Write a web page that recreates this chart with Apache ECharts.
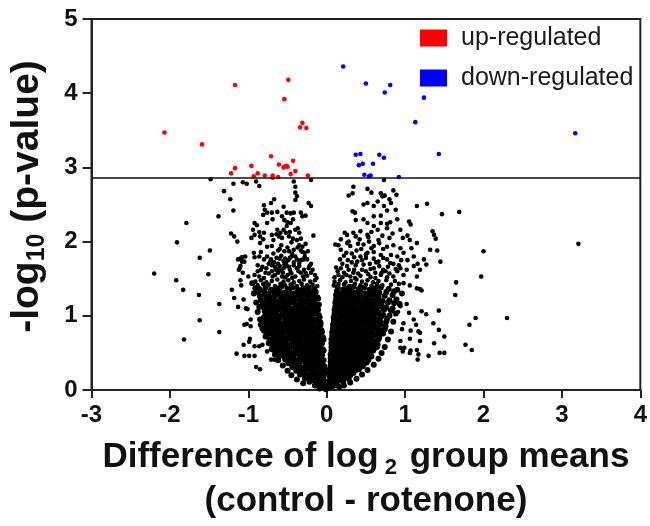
<!DOCTYPE html>
<html><head><meta charset="utf-8">
<script src="https://cdn.jsdelivr.net/npm/echarts@6/dist/echarts.min.js"></script>
<style>html,body{margin:0;padding:0;background:#fff}#c{width:650px;height:526px}</style>
</head><body><div id="c"></div>
<script>
const xTicks = [-3,-2,-1,0,1,2,3,4];
const yTicks = [0,1,2,3,4,5];
const threshold = 2.86;
const upRegulated = [[-2.07,3.47],[-1.59,3.31],[-1.17,4.11],[-0.49,4.18],[-0.54,3.92],[-0.31,3.60],[-0.34,3.54],[-0.26,3.53],[-0.71,3.15],[-0.96,3.02],[-1.17,2.99],[-1.22,2.92],[-0.61,3.04],[-0.55,3.00],[-0.52,3.02],[-0.50,3.01],[-0.43,3.09],[-0.40,2.95],[-0.46,2.91],[-0.88,2.92],[-0.93,2.88],[-0.79,2.89],[-0.69,2.89],[-0.69,2.86],[-0.62,2.87],[-0.24,2.89]];
const downRegulated = [[0.21,4.36],[0.50,4.13],[0.81,4.11],[0.74,4.01],[1.24,3.94],[1.13,3.61],[3.17,3.46],[1.43,3.18],[0.37,3.17],[0.43,3.18],[0.67,3.17],[0.73,3.13],[0.41,3.03],[0.46,3.05],[0.59,3.05],[0.48,2.90],[0.54,2.88],[0.56,2.89],[0.92,2.87]];
const nsLeftOutliers = [[-2.20,1.57],[-1.91,1.99],[-1.92,1.48],[-1.83,1.35],[-1.82,0.68],[-1.79,2.25],[-1.63,1.28],[-1.62,1.78],[-1.62,0.94],[-1.51,1.56],[-1.49,1.88],[-1.48,2.84],[-1.38,2.34],[-1.37,1.16],[-1.37,0.78],[-1.31,2.68],[-1.23,2.57],[-1.22,2.11],[-1.19,2.42],[-1.19,2.78],[-1.14,2.00],[-1.18,2.07],[-1.07,2.80],[-1.02,2.78],[-0.86,2.75],[-0.90,2.81],[-1.15,0.49],[-1.05,0.46],[-0.99,0.46],[-0.92,0.46],[-0.90,0.31],[-0.85,0.28],[-1.06,0.61],[-0.99,0.65],[-1.21,1.35],[-1.18,1.24],[-1.13,1.12],[-1.03,1.10],[-1.02,0.89],[-1.06,1.22],[-1.11,1.64],[-1.13,1.76],[-1.09,1.78],[-1.04,1.80],[-1.10,1.48],[-1.12,1.62],[-1.08,1.73],[-1.07,1.58],[-1.00,1.53],[-1.09,1.41],[-1.01,1.09],[-0.97,0.95],[-1.05,0.88],[-0.97,0.86],[-0.98,0.69],[-0.92,0.59],[-0.86,0.59],[-0.82,0.61],[-0.76,0.52],[-0.71,0.41],[-0.67,0.41],[-0.20,2.83]];
const nsLeftWing = [[-0.42,2.81],[-0.40,2.74],[-0.40,2.66],[-0.38,2.61],[-0.40,2.56],[-0.23,2.52],[-0.20,2.48],[-0.67,2.57],[-0.71,2.52],[-0.80,2.49],[-0.79,2.43],[-0.81,2.36],[-0.76,2.39],[-0.70,2.39],[-0.63,2.40],[-0.55,2.47],[-0.51,2.39],[-0.46,2.38],[-0.42,2.39],[-0.33,2.39],[-0.31,2.34],[-0.27,2.35],[-0.76,2.25],[-0.69,2.30],[-0.57,2.34],[-0.54,2.29],[-0.50,2.26],[-0.46,2.25],[-0.43,2.30],[-0.51,2.21],[-0.92,2.25],[-0.89,2.22],[-0.94,2.16],[-0.86,2.13],[-0.80,2.12],[-0.92,2.09],[-0.85,2.07],[-0.81,2.03],[-0.96,2.05],[-0.63,2.16],[-0.59,2.12],[-0.70,2.09],[-0.68,2.02],[-0.61,2.07],[-0.57,2.05],[-0.52,2.12],[-0.48,2.07],[-0.43,2.04],[-0.40,2.16],[-0.37,2.18],[-0.35,2.12],[-0.33,2.04],[-0.17,2.08],[-0.35,1.95],[-0.31,1.93],[-0.31,1.86],[-0.28,1.85],[-0.42,1.89],[-0.48,1.87],[-0.54,1.87],[-0.62,1.88],[-0.70,1.94],[-0.84,1.86],[-0.93,1.85],[-1.08,1.79],[-1.05,1.73],[-1.10,1.67],[-0.92,1.79],[-0.76,1.80],[-0.71,1.76],[-0.67,1.72],[-0.60,1.77],[-0.53,1.77],[-0.49,1.75],[-0.45,1.80],[-0.38,1.76],[-0.33,1.75],[-0.25,1.76],[-0.88,1.68],[-0.84,1.62],[-0.77,1.64],[-0.70,1.68],[-0.65,1.62],[-0.60,1.67],[-0.55,1.64],[-0.51,1.67],[-0.47,1.62],[-0.42,1.68],[-0.35,1.67],[-0.29,1.62],[-0.23,1.64],[-0.92,1.55],[-0.86,1.53],[-0.74,1.57],[-0.69,1.53],[-0.62,1.58],[-0.57,1.53],[-0.50,1.55],[-0.45,1.57],[-0.40,1.53],[-0.33,1.58],[-0.25,1.54],[-0.54,1.69],[-0.18,1.62],[-0.15,1.55],[-0.20,1.70],[-0.13,1.51],[-0.78,1.58],[-0.70,1.60],[-0.62,1.63],[-0.56,1.58],[-0.46,1.58],[-0.36,1.60],[-0.30,1.53],[-0.52,1.71],[-0.42,1.72],[-0.62,1.70],[-0.74,1.70],[-0.80,1.76],[-0.58,1.81],[-0.40,1.80],[-0.28,1.80],[-0.33,1.88],[-0.50,1.92],[-0.58,1.95],[-0.76,1.93],[-0.85,1.98],[-0.45,1.99],[-0.38,2.02],[-0.27,1.97],[-0.64,2.10],[-0.55,2.16],[-0.47,2.13],
[-0.88,1.60],[-0.82,1.66],[-0.66,1.55],[-0.58,1.61],[-0.48,1.66],[-0.38,1.64],[-0.27,1.58],[-0.22,1.67],[-0.72,1.73],[-0.64,1.78],[-0.55,1.74],[-0.47,1.78],[-0.35,1.71],[-0.30,1.76],[-0.86,1.80],[-0.68,1.84],[-0.60,1.90],[-0.44,1.84],[-0.37,1.92],[-0.24,1.87],[-0.53,1.52],[-0.44,1.51],[-0.80,1.51],[-0.66,1.66],[-0.20,1.58],
[-0.91,1.46],[-0.84,1.48],[-0.77,1.45],[-0.70,1.47],[-0.63,1.49],[-0.55,1.46],[-0.49,1.48],[-0.42,1.45],[-0.35,1.47],[-0.29,1.49],[-0.21,1.46],[-0.15,1.48],
[-0.88,1.41],[-0.81,1.43],[-0.74,1.42],[-0.66,1.40],[-0.59,1.43],[-0.53,1.41],[-0.46,1.42],[-0.38,1.40],[-0.32,1.43],[-0.25,1.41],[-0.18,1.42],[-0.12,1.40]];
const nsLeftCore = [
[-0.86,1.36],[-0.78,1.38],[-0.71,1.35],[-0.64,1.37],[-0.58,1.39],[-0.50,1.36],[-0.44,1.38],[-0.37,1.35],[-0.30,1.37],[-0.23,1.38],[-0.16,1.36],
[-0.87,1.31],[-0.80,1.33],[-0.74,1.30],[-0.67,1.32],[-0.61,1.34],[-0.54,1.31],[-0.48,1.33],[-0.41,1.30],[-0.34,1.32],[-0.27,1.33],[-0.21,1.31],[-0.14,1.32],
[-0.85,1.26],[-0.79,1.28],[-0.72,1.25],[-0.66,1.27],[-0.60,1.29],[-0.54,1.26],[-0.48,1.28],[-0.42,1.25],[-0.36,1.27],[-0.30,1.28],[-0.24,1.26],[-0.18,1.27],[-0.12,1.25],
[-0.84,1.21],[-0.77,1.23],[-0.71,1.22],[-0.65,1.20],[-0.59,1.23],[-0.53,1.21],[-0.47,1.22],[-0.41,1.20],[-0.35,1.23],[-0.29,1.21],[-0.23,1.22],[-0.17,1.20],[-0.11,1.23],
[-0.82,1.16],[-0.76,1.18],[-0.70,1.15],[-0.64,1.17],[-0.58,1.19],[-0.52,1.16],[-0.46,1.18],[-0.40,1.15],[-0.34,1.17],[-0.28,1.18],[-0.22,1.16],[-0.16,1.17],[-0.10,1.15],
[-0.80,1.11],[-0.75,1.13],[-0.70,1.12],[-0.65,1.10],[-0.59,1.13],[-0.54,1.11],[-0.49,1.12],[-0.44,1.10],[-0.39,1.13],[-0.34,1.11],[-0.29,1.12],[-0.24,1.10],[-0.19,1.13],[-0.14,1.11],
[-0.79,1.06],[-0.74,1.08],[-0.68,1.05],[-0.63,1.07],[-0.57,1.09],[-0.52,1.06],[-0.47,1.08],[-0.41,1.05],[-0.36,1.07],[-0.31,1.08],[-0.26,1.06],[-0.21,1.07],[-0.16,1.05],[-0.11,1.08],
[-0.78,1.01],[-0.72,1.03],[-0.67,1.02],[-0.62,1.00],[-0.56,1.03],[-0.51,1.01],[-0.46,1.02],[-0.40,1.00],[-0.35,1.03],[-0.30,1.01],[-0.25,1.02],[-0.20,1.00],[-0.15,1.03],[-0.10,1.01],
[-0.76,0.96],[-0.71,0.98],[-0.66,0.95],[-0.60,0.97],[-0.55,0.99],[-0.50,0.96],[-0.44,0.98],[-0.39,0.95],[-0.34,0.97],[-0.29,0.98],[-0.24,0.96],[-0.19,0.97],[-0.14,0.95],[-0.09,0.98],
[-0.75,0.91],[-0.69,0.93],[-0.64,0.92],[-0.59,0.90],[-0.53,0.93],[-0.48,0.91],[-0.43,0.92],[-0.38,0.90],[-0.33,0.93],[-0.28,0.91],[-0.23,0.92],[-0.18,0.90],[-0.13,0.93],[-0.08,0.91],
[-0.73,0.86],[-0.68,0.88],[-0.62,0.85],[-0.57,0.87],[-0.52,0.89],[-0.47,0.86],[-0.42,0.88],[-0.37,0.85],[-0.32,0.87],[-0.27,0.88],[-0.22,0.86],[-0.17,0.87],[-0.12,0.85],[-0.08,0.88],
[-0.72,0.81],[-0.66,0.83],[-0.61,0.82],[-0.56,0.80],[-0.51,0.83],[-0.46,0.81],[-0.41,0.82],[-0.36,0.80],[-0.31,0.83],[-0.26,0.81],[-0.21,0.82],[-0.16,0.80],[-0.11,0.83],[-0.07,0.81],
[-0.70,0.76],[-0.65,0.78],[-0.60,0.75],[-0.55,0.77],[-0.50,0.79],[-0.45,0.76],[-0.40,0.78],[-0.35,0.75],[-0.30,0.77],[-0.25,0.78],[-0.20,0.76],[-0.15,0.77],[-0.11,0.75],[-0.06,0.78],
[-0.68,0.71],[-0.63,0.73],[-0.58,0.72],[-0.53,0.70],[-0.48,0.73],[-0.43,0.71],[-0.38,0.72],[-0.33,0.70],[-0.28,0.73],[-0.23,0.71],[-0.18,0.72],[-0.13,0.70],[-0.09,0.73],[-0.05,0.71],
[-0.66,0.66],[-0.61,0.68],[-0.56,0.65],[-0.51,0.67],[-0.46,0.69],[-0.41,0.66],[-0.36,0.68],[-0.31,0.65],[-0.26,0.67],[-0.21,0.68],[-0.17,0.66],[-0.12,0.67],[-0.08,0.65],[-0.04,0.68],
[-0.64,0.61],[-0.59,0.63],[-0.54,0.62],[-0.49,0.60],[-0.44,0.63],[-0.39,0.61],[-0.34,0.62],[-0.29,0.60],[-0.24,0.63],[-0.19,0.61],[-0.15,0.62],[-0.10,0.60],[-0.06,0.63],
[-0.62,0.56],[-0.57,0.58],[-0.52,0.55],[-0.47,0.57],[-0.42,0.59],[-0.37,0.56],[-0.32,0.58],[-0.27,0.55],[-0.22,0.57],[-0.18,0.58],[-0.13,0.56],[-0.09,0.57],[-0.05,0.55],
[-0.60,0.51],[-0.55,0.53],[-0.50,0.52],[-0.45,0.50],[-0.40,0.53],[-0.35,0.51],[-0.30,0.52],[-0.25,0.50],[-0.21,0.53],[-0.16,0.51],[-0.12,0.52],[-0.08,0.50],[-0.04,0.53],
[-0.57,0.46],[-0.52,0.48],[-0.47,0.45],[-0.42,0.47],[-0.37,0.49],[-0.32,0.46],[-0.28,0.48],[-0.23,0.45],[-0.19,0.47],[-0.14,0.48],[-0.10,0.46],[-0.06,0.47],
[-0.53,0.41],[-0.48,0.43],[-0.43,0.42],[-0.39,0.40],[-0.34,0.43],[-0.30,0.41],[-0.25,0.42],[-0.21,0.40],[-0.17,0.43],[-0.12,0.41],[-0.08,0.42],[-0.04,0.40],
[-0.49,0.36],[-0.44,0.38],[-0.40,0.35],[-0.35,0.37],[-0.31,0.39],[-0.26,0.36],[-0.22,0.38],[-0.18,0.35],[-0.14,0.37],[-0.10,0.38],[-0.06,0.36],
[-0.44,0.31],[-0.40,0.33],[-0.35,0.32],[-0.31,0.30],[-0.27,0.33],[-0.23,0.31],[-0.19,0.32],[-0.15,0.30],[-0.11,0.33],[-0.07,0.31],[-0.03,0.32],
[-0.39,0.26],[-0.35,0.28],[-0.31,0.25],[-0.27,0.27],[-0.23,0.29],[-0.19,0.26],[-0.15,0.28],[-0.11,0.25],[-0.07,0.27],[-0.03,0.28],
[-0.34,0.21],[-0.30,0.23],[-0.26,0.22],[-0.22,0.20],[-0.18,0.23],[-0.14,0.21],[-0.10,0.22],[-0.06,0.20],[-0.02,0.23],
[-0.28,0.16],[-0.24,0.18],[-0.20,0.15],[-0.16,0.17],[-0.12,0.19],[-0.08,0.16],[-0.04,0.18],
[-0.22,0.11],[-0.18,0.13],[-0.14,0.12],[-0.10,0.10],[-0.06,0.13],[-0.02,0.11],
[-0.15,0.06],[-0.11,0.08],[-0.07,0.05],[-0.03,0.07],
[-0.09,0.02],[-0.05,0.04],[-0.01,0.01],[0.03,0.03],
[-0.95,1.44],[-0.93,1.30],[-0.90,1.18],[-0.88,1.05],[-0.85,0.95],[-0.82,0.83],[-0.78,0.72],[-0.74,0.63],[-0.70,0.55],[-0.66,0.48],[-0.62,0.40],[-0.56,0.33],[-0.50,0.26],[-0.45,0.20],[-0.38,0.14],[-0.30,0.09],[-0.80,0.98],[-0.86,1.12],[-0.91,1.37],
[-0.80,0.80],[-0.77,0.85],[-0.79,0.90],[-0.81,0.94],[-0.76,0.74],[-0.73,0.68],[-0.71,0.63],[-0.69,0.58],[-0.75,0.78],[-0.84,0.88],[-0.66,0.53],[-0.62,0.47]];
const nsRightCore = [
[0.14,1.38],[0.21,1.35],[0.27,1.37],[0.34,1.39],[0.41,1.36],[0.48,1.38],[0.55,1.35],[0.62,1.37],[0.69,1.38],[0.79,1.36],[0.90,1.35],
[0.13,1.33],[0.19,1.30],[0.25,1.32],[0.31,1.34],[0.37,1.31],[0.43,1.33],[0.49,1.30],[0.55,1.32],[0.61,1.33],[0.67,1.31],[0.76,1.32],[0.86,1.33],
[0.12,1.28],[0.18,1.25],[0.24,1.27],[0.30,1.29],[0.36,1.26],[0.42,1.28],[0.48,1.25],[0.54,1.27],[0.60,1.28],[0.66,1.26],[0.74,1.27],[0.84,1.28],
[0.12,1.23],[0.17,1.22],[0.23,1.20],[0.29,1.23],[0.35,1.21],[0.41,1.22],[0.47,1.20],[0.53,1.23],[0.59,1.21],[0.65,1.22],[0.71,1.20],[0.80,1.21],[0.89,1.22],
[0.11,1.18],[0.16,1.15],[0.21,1.17],[0.27,1.19],[0.32,1.16],[0.37,1.18],[0.43,1.15],[0.48,1.17],[0.54,1.18],[0.59,1.16],[0.65,1.17],[0.70,1.15],[0.78,1.18],[0.86,1.17],
[0.11,1.13],[0.16,1.12],[0.21,1.10],[0.26,1.13],[0.31,1.11],[0.36,1.12],[0.41,1.10],[0.47,1.13],[0.52,1.11],[0.57,1.12],[0.62,1.10],[0.68,1.13],[0.76,1.11],[0.84,1.10],
[0.10,1.08],[0.15,1.05],[0.20,1.07],[0.25,1.09],[0.30,1.06],[0.35,1.08],[0.40,1.05],[0.45,1.07],[0.50,1.08],[0.55,1.06],[0.60,1.07],[0.66,1.05],[0.73,1.08],[0.82,1.07],
[0.10,1.03],[0.15,1.02],[0.20,1.00],[0.25,1.03],[0.30,1.01],[0.35,1.02],[0.40,1.00],[0.45,1.03],[0.50,1.01],[0.55,1.02],[0.60,1.00],[0.65,1.03],[0.72,1.01],[0.80,1.00],
[0.09,0.98],[0.14,0.95],[0.19,0.97],[0.24,0.99],[0.29,0.96],[0.34,0.98],[0.39,0.95],[0.44,0.97],[0.49,0.98],[0.54,0.96],[0.59,0.97],[0.64,0.95],[0.69,0.98],[0.77,0.96],
[0.09,0.93],[0.14,0.92],[0.19,0.90],[0.24,0.93],[0.29,0.91],[0.34,0.92],[0.39,0.90],[0.44,0.93],[0.49,0.91],[0.54,0.92],[0.59,0.90],[0.64,0.93],[0.69,0.91],[0.76,0.92],
[0.08,0.88],[0.13,0.85],[0.18,0.87],[0.23,0.89],[0.28,0.86],[0.33,0.88],[0.38,0.85],[0.43,0.87],[0.48,0.88],[0.53,0.86],[0.58,0.87],[0.63,0.85],[0.68,0.88],[0.75,0.86],
[0.08,0.83],[0.13,0.82],[0.18,0.80],[0.23,0.83],[0.28,0.81],[0.33,0.82],[0.38,0.80],[0.43,0.83],[0.48,0.81],[0.53,0.82],[0.58,0.80],[0.63,0.83],[0.68,0.81],[0.74,0.82],
[0.07,0.78],[0.12,0.75],[0.17,0.77],[0.22,0.79],[0.27,0.76],[0.32,0.78],[0.37,0.75],[0.42,0.77],[0.47,0.78],[0.52,0.76],[0.57,0.77],[0.62,0.75],[0.67,0.78],[0.72,0.76],
[0.07,0.73],[0.12,0.72],[0.17,0.70],[0.22,0.73],[0.27,0.71],[0.32,0.72],[0.37,0.70],[0.42,0.73],[0.47,0.71],[0.52,0.72],[0.57,0.70],[0.62,0.73],[0.67,0.71],
[0.06,0.68],[0.11,0.65],[0.16,0.67],[0.21,0.69],[0.26,0.66],[0.31,0.68],[0.36,0.65],[0.41,0.67],[0.46,0.68],[0.51,0.66],[0.56,0.67],[0.61,0.65],[0.66,0.68],
[0.06,0.63],[0.11,0.62],[0.16,0.60],[0.21,0.63],[0.26,0.61],[0.31,0.62],[0.36,0.60],[0.41,0.63],[0.46,0.61],[0.51,0.62],[0.56,0.60],[0.61,0.63],[0.65,0.61],
[0.06,0.58],[0.10,0.55],[0.15,0.57],[0.20,0.59],[0.25,0.56],[0.30,0.58],[0.35,0.55],[0.40,0.57],[0.45,0.58],[0.50,0.56],[0.55,0.57],[0.60,0.55],[0.64,0.58],
[0.06,0.53],[0.10,0.52],[0.15,0.50],[0.20,0.53],[0.25,0.51],[0.30,0.52],[0.35,0.50],[0.40,0.53],[0.45,0.51],[0.50,0.52],[0.55,0.50],[0.59,0.53],
[0.05,0.48],[0.09,0.45],[0.14,0.47],[0.19,0.49],[0.24,0.46],[0.29,0.48],[0.34,0.45],[0.39,0.47],[0.44,0.48],[0.49,0.46],[0.54,0.47],[0.57,0.45],
[0.05,0.43],[0.09,0.42],[0.14,0.40],[0.19,0.43],[0.24,0.41],[0.29,0.42],[0.34,0.40],[0.39,0.43],[0.44,0.41],[0.49,0.42],[0.53,0.40],
[0.05,0.38],[0.09,0.35],[0.13,0.37],[0.18,0.39],[0.23,0.36],[0.28,0.38],[0.33,0.35],[0.38,0.37],[0.43,0.38],[0.48,0.36],[0.51,0.37],
[0.05,0.33],[0.09,0.32],[0.13,0.30],[0.18,0.33],[0.23,0.31],[0.28,0.32],[0.33,0.30],[0.38,0.33],[0.43,0.31],[0.46,0.32],
[0.04,0.28],[0.08,0.25],[0.12,0.27],[0.17,0.29],[0.22,0.26],[0.27,0.28],[0.32,0.25],[0.37,0.27],[0.41,0.28],
[0.04,0.23],[0.08,0.22],[0.12,0.20],[0.16,0.23],[0.20,0.21],[0.25,0.22],[0.30,0.20],[0.34,0.23],
[0.04,0.18],[0.08,0.15],[0.12,0.17],[0.16,0.19],[0.20,0.16],[0.24,0.18],[0.28,0.15],
[0.01,0.11],[0.05,0.13],[0.09,0.12],[0.13,0.10],[0.17,0.13],[0.21,0.11],
[0.01,0.06],[0.04,0.08],[0.08,0.05],[0.12,0.07],
[0.96,1.30],[0.93,1.16],[0.88,1.03],[0.85,0.92],[0.82,0.79],[0.78,0.68],[0.74,0.58],[0.70,0.50],[0.66,0.42],[0.60,0.34],[0.52,0.27],[0.45,0.21],[0.38,0.15],[0.30,0.10],[0.22,0.06],[0.16,0.04]];
const nsRightWing = [[0.73,2.83],[0.34,2.74],[0.28,2.62],[0.33,2.65],[0.52,2.71],[0.57,2.66],[0.69,2.65],[0.74,2.62],[0.71,2.61],[0.80,2.57],[0.85,2.69],[0.89,2.63],[0.82,2.52],[0.65,2.54],[0.60,2.48],[0.47,2.50],[0.52,2.52],[0.73,2.48],[0.77,2.42],[0.88,2.43],[0.33,2.41],[0.36,2.39],[0.69,2.35],[0.60,2.34],[0.47,2.30],[0.52,2.25],[0.37,2.29],[0.69,2.25],[0.77,2.24],[0.81,2.26],[0.90,2.30],[1.05,2.27],[1.07,2.23],[0.60,2.21],[0.65,2.16],[0.77,2.18],[0.23,2.12],[0.26,2.09],[0.34,2.12],[0.37,2.07],[0.43,2.14],[0.52,2.09],[0.57,2.13],[0.71,2.08],[0.84,2.11],[0.94,2.16],[0.97,2.05],[1.03,2.08],[1.06,2.02],[0.11,1.96],[0.15,1.95],[0.18,1.89],[0.26,1.98],[0.30,1.94],[0.42,2.03],[0.47,1.96],[0.54,2.00],[0.60,1.94],[0.67,1.98],[0.77,1.93],[0.85,1.95],[0.94,1.91],[1.08,1.91],[1.15,1.98],[0.22,1.81],[0.35,1.79],[0.43,1.80],[0.52,1.85],[0.60,1.77],[0.69,1.82],[0.77,1.76],[0.90,1.80],[0.98,1.85],[1.03,1.75],[1.11,1.80],[1.16,1.70],[1.24,1.76],[0.26,1.67],[0.35,1.62],[0.47,1.69],[0.56,1.63],[0.67,1.67],[0.75,1.60],[0.81,1.71],[0.94,1.64],[1.02,1.62],[1.11,1.67],[1.19,1.62],[1.27,1.69],[0.30,1.53],[0.43,1.54],[0.56,1.52],[0.69,1.55],[0.85,1.53],[0.98,1.55],[1.15,1.53],[0.39,1.73],[0.18,2.03],[0.15,1.55],[0.22,1.58],[0.28,1.62],[0.40,1.57],[0.50,1.60],[0.62,1.58],[0.72,1.62],[0.80,1.57],[0.90,1.60],[0.20,1.70],[0.32,1.72],[0.45,1.75],[0.55,1.70],[0.66,1.73],[0.85,1.70],[0.95,1.75],[0.25,1.85],[0.38,1.88],[0.50,1.83],[0.60,1.86],[0.72,1.90],[0.28,2.00],[0.40,1.97],[0.53,2.06],[0.66,2.02],[0.80,2.05],[0.12,1.65],[0.10,1.52],
[0.14,1.60],[0.18,1.64],[0.25,1.55],[0.34,1.58],[0.45,1.62],[0.53,1.56],[0.60,1.64],[0.70,1.58],[0.78,1.66],[0.88,1.63],[0.17,1.76],[0.27,1.75],[0.37,1.68],[0.50,1.78],[0.63,1.72],[0.72,1.78],[0.82,1.82],[0.32,1.84],[0.44,1.90],[0.57,1.91],[0.20,1.52],[0.36,1.51],[0.62,1.51],[0.77,1.52],[0.92,1.68],
[0.10,1.46],[0.17,1.48],[0.24,1.45],[0.31,1.47],[0.38,1.49],[0.45,1.46],[0.52,1.48],[0.59,1.45],[0.66,1.47],[0.76,1.48],[0.87,1.47],
[0.09,1.41],[0.15,1.43],[0.22,1.42],[0.29,1.40],[0.36,1.43],[0.43,1.41],[0.50,1.42],[0.57,1.40],[0.64,1.43],[0.71,1.41],[0.82,1.42],[0.92,1.43],[0.98,1.44]];
const nsRightOutliers = [[1.15,2.48],[1.28,2.51],[1.47,2.37],[1.69,2.40],[1.35,2.14],[1.37,2.09],[1.39,2.04],[1.32,1.89],[1.41,1.88],[3.21,1.97],[2.00,1.87],[1.45,1.73],[1.97,1.53],[1.65,1.45],[1.64,1.28],[1.90,0.97],[2.30,0.97],[1.82,0.88],[1.77,0.61],[1.85,0.54],[1.21,1.06],[1.27,1.02],[1.43,1.07],[1.36,0.90],[1.43,0.81],[1.50,0.72],[1.37,0.63],[1.44,0.50],[1.50,0.50],[1.30,0.46],[1.16,0.41],[1.17,0.48],[1.15,0.54],[1.19,0.66],[1.07,0.53],[0.99,0.57],[0.94,0.57],[1.05,1.04],[1.14,0.88],[1.19,0.77],[1.06,0.69],[1.11,0.95],[0.96,0.82],[1.19,1.36],[1.21,1.34],[1.06,1.41],[1.02,1.16],[0.94,1.13],[0.91,1.05],[1.15,1.37],[0.98,0.90],[0.94,0.66],[0.97,0.52],[1.06,0.50],[1.07,0.80],[1.17,0.79]];

const nsCore = [].concat(nsLeftCore, nsRightCore);
const nsSparse = [].concat(nsLeftOutliers, nsLeftWing, nsRightWing, nsRightOutliers);

const FONT = "'Liberation Sans',Arial,sans-serif";
const chart = echarts.init(document.getElementById('c'), null, {renderer:'canvas'});
chart.setOption({
  animation: false,
  backgroundColor: '#fff',
  grid: {left: 90, right: 9, top: 19, bottom: 136, show: true, borderColor: '#222', borderWidth: 2},
  legend: {
    data: ['up-regulated','down-regulated'],
    orient: 'vertical', left: 415, top: 20,
    icon: 'rect', itemWidth: 27, itemHeight: 17, itemGap: 14,
    itemStyle: {opacity: 1},
    textStyle: {fontFamily: FONT, fontSize: 25, color: '#1a1a1a', padding:[0,0,0,9], lineHeight: 26}
  },
  xAxis: {
    type: 'value', min: xTicks[0], max: xTicks[xTicks.length-1], interval: 1,
    splitLine: {show: false},
    axisLine: {onZero: false, lineStyle: {color: '#222', width: 2}},
    axisTick: {inside: false, length: 8, lineStyle: {color: '#222', width: 2}},
    axisLabel: {margin: 13, color: '#111', fontWeight: 'bold', fontSize: 24, fontFamily: FONT},
    name: '{a|Difference of log}{s| 2}{a| group means}\n{a|(control - rotenone)}',
    nameLocation: 'middle', nameGap: 45,
    nameTextStyle: {
      rich: {
        a: {fontFamily: FONT, fontWeight: 'bold', fontSize: 35, color: '#111', lineHeight: 44},
        s: {fontFamily: FONT, fontWeight: 'bold', fontSize: 22, color: '#111', lineHeight: 44, verticalAlign: 'bottom', padding:[0,3,0,0]}
      }
    }
  },
  yAxis: {
    type: 'value', min: yTicks[0], max: yTicks[yTicks.length-1], interval: 1,
    splitLine: {show: false},
    axisLine: {onZero: false, lineStyle: {color: '#222', width: 2}},
    axisTick: {inside: false, length: 9, lineStyle: {color: '#222', width: 2}},
    axisLabel: {margin: 14, color: '#111', fontWeight: 'bold', fontSize: 24, fontFamily: FONT},
    name: '{a|-log}{s|10}{a| (p-value)}',
    nameLocation: 'middle', nameGap: 42, nameRotate: 90,
    nameTextStyle: {
      padding: [0, 0, 0, 16],
      rich: {
        a: {fontFamily: FONT, fontWeight: 'bold', fontSize: 39, color: '#111', lineHeight: 44},
        s: {fontFamily: FONT, fontWeight: 'bold', fontSize: 25, color: '#111', lineHeight: 44, verticalAlign: 'bottom'}
      }
    }
  },
  series: [
    {name: 'ns-core', type: 'scatter', data: nsCore, symbolSize: 6, itemStyle: {color: '#000', opacity: 1}, silent: true},
    {name: 'ns', type: 'scatter', data: nsSparse, symbolSize: 4.6, itemStyle: {color: '#000', opacity: 1}, silent: true,
     markLine: {silent: true, symbol: 'none', label: {show: false}, lineStyle: {color: '#111', width: 1.5, type: 'solid'}, data: [{yAxis: threshold}]}},
    {name: 'up-regulated', type: 'scatter', data: upRegulated, symbolSize: 4.6, itemStyle: {color: '#ff0000', opacity: 1}},
    {name: 'down-regulated', type: 'scatter', data: downRegulated, symbolSize: 4.6, itemStyle: {color: '#0000ff', opacity: 1}}
  ]
});
</script></body></html>
